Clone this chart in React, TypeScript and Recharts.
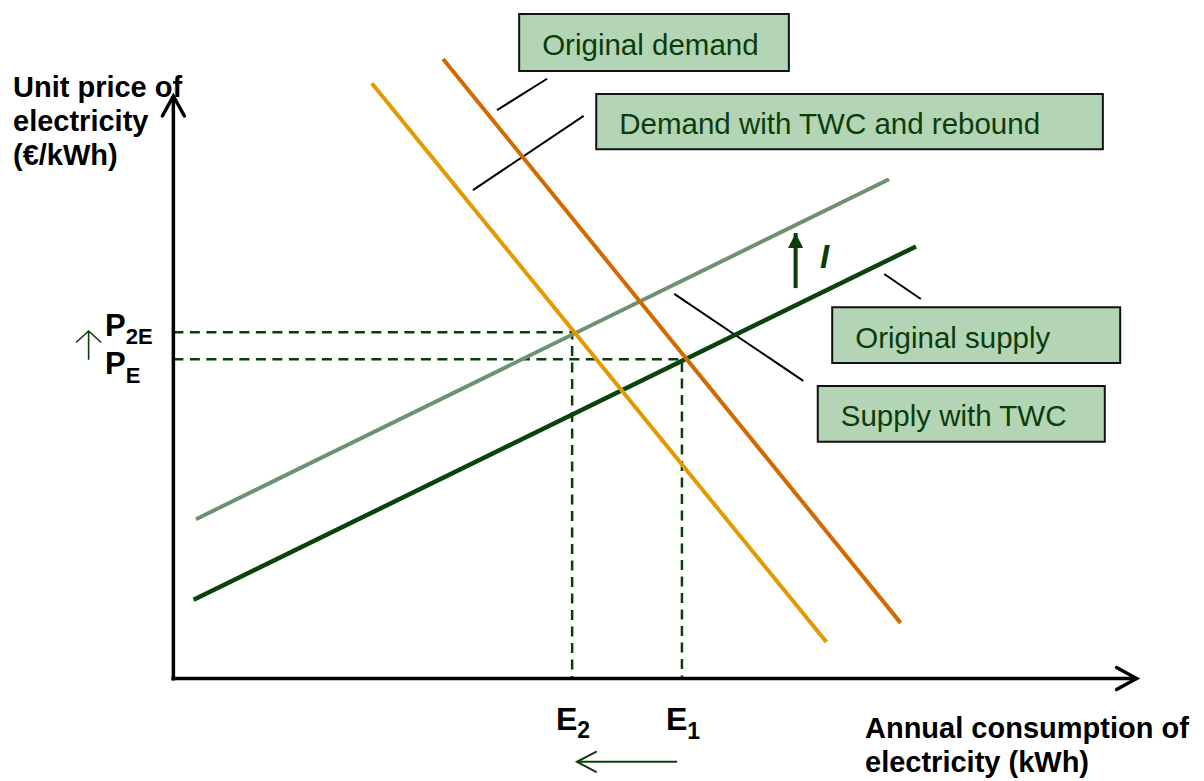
import React from 'react';
import { ComposedChart, Line, XAxis, YAxis, ReferenceArea } from 'recharts';

// ---------------------------------------------------------------------------
// Data (abstract units: quantity on x, price on y)
// ---------------------------------------------------------------------------

const originalDemand = [
  { x: 28.0, y: 96.8 },
  { x: 75.5, y: 8.7 },
];
const demandWithTWC = [
  { x: 20.6, y: 93.0 },
  { x: 67.8, y: 5.7 },
];
const supplyWithTWC = [
  { x: 2.35, y: 24.9 },
  { x: 74.3, y: 78.0 },
];
const originalSupply = [
  { x: 2.1, y: 12.3 },
  { x: 77.1, y: 67.5 },
];

// equilibrium guides: price level -> quantity -> axis
const guideP2E = [
  { x: 0, y: 54.1 },
  { x: 41.4, y: 54.1 },
  { x: 41.4, y: 0 },
];
const guidePE = [
  { x: 0, y: 49.9 },
  { x: 52.8, y: 49.9 },
  { x: 52.8, y: 0 },
];

const xAxisLine = [
  { x: -0.2, y: 0 },
  { x: 100, y: 0 },
];
const yAxisLine = [
  { x: 0, y: -0.3 },
  { x: 0, y: 91 },
];

const shiftI = [
  { x: 64.6, y: 61.0 },
  { x: 64.6, y: 69.6 },
];
const shiftE = [
  { x: 52.3, y: -13.0 },
  { x: 41.9, y: -13.0 },
];
const shiftP = [
  { x: -8.8, y: 49.8 },
  { x: -8.8, y: 54.3 },
];

const leaderOriginalDemand = [
  { x: 38.8, y: 93.7 },
  { x: 33.6, y: 88.8 },
];
const leaderDemandTWC = [
  { x: 42.6, y: 87.9 },
  { x: 31.1, y: 76.3 },
];
const leaderSupplyTWC = [
  { x: 52.0, y: 60.1 },
  { x: 65.4, y: 46.5 },
];
const leaderOriginalSupply = [
  { x: 73.8, y: 63.2 },
  { x: 77.6, y: 59.3 },
];

const labelBoxes = [
  { text: 'Original demand', x1: 35.9, x2: 63.9, y1: 94.9, y2: 103.8 },
  { text: 'Demand with TWC and rebound', x1: 43.9, x2: 96.5, y1: 82.7, y2: 91.3 },
  { text: 'Original supply', x1: 68.4, x2: 98.3, y1: 49.3, y2: 58.0 },
  { text: 'Supply with TWC', x1: 66.9, x2: 96.7, y1: 37.0, y2: 45.7 },
];

// ---------------------------------------------------------------------------
// Helpers
// ---------------------------------------------------------------------------

const FONT = "'Liberation Sans', Arial, Helvetica, sans-serif";
const DARK_GREEN = '#0b3d0b';

type Dir = 'up' | 'right' | 'left';

// draws an arrow head on the last point of a two-point line
const arrowHead =
  (dir: Dir, back: number, spread: number, color: string, width: number, filled = false) =>
  (props: any) => {
    const { cx, cy, index } = props;
    if (index !== 1 || cx == null || cy == null) return <g key={`a-${index}`} />;
    let a: [number, number];
    let b: [number, number];
    if (dir === 'up') {
      a = [cx - spread, cy + back];
      b = [cx + spread, cy + back];
    } else if (dir === 'right') {
      a = [cx - back, cy - spread];
      b = [cx - back, cy + spread];
    } else {
      a = [cx + back, cy - spread];
      b = [cx + back, cy + spread];
    }
    if (filled) {
      return (
        <path
          key={`a-${index}`}
          d={`M${cx},${cy} L${a[0]},${a[1]} L${b[0]},${b[1]} Z`}
          fill={color}
          stroke="none"
        />
      );
    }
    return (
      <path
        key={`a-${index}`}
        d={`M${a[0]},${a[1]} L${cx},${cy} L${b[0]},${b[1]}`}
        fill="none"
        stroke={color}
        strokeWidth={width}
        strokeLinecap="round"
        strokeLinejoin="miter"
      />
    );
  };

const seg = (
  key: string,
  data: Array<{ x: number; y: number }>,
  stroke: string,
  strokeWidth: number,
  extra: Record<string, any> = {},
) => (
  <Line
    key={key}
    data={data}
    dataKey="y"
    type="linear"
    stroke={stroke}
    strokeWidth={strokeWidth}
    dot={false}
    activeDot={false}
    isAnimationActive={false}
    legendType="none"
    {...extra}
  />
);

// ---------------------------------------------------------------------------
// Component
// ---------------------------------------------------------------------------

const App: React.FC = () => {
  return (
    <div style={{ position: 'absolute', left: 0, top: 0, width: 1204, height: 781, background: '#fff' }}>
      <ComposedChart width={1204} height={781} margin={{ top: 0, right: 0, bottom: 0, left: 0 }}>
        <XAxis type="number" dataKey="x" domain={[-18, 107]} allowDataOverflow hide />
        <YAxis type="number" domain={[-16, 106]} allowDataOverflow hide />

        {labelBoxes.map((b) => (
          <ReferenceArea
            key={b.text}
            x1={b.x1}
            x2={b.x2}
            y1={b.y1}
            y2={b.y2}
            fill="#b3d4b5"
            fillOpacity={1}
            stroke="#111"
            strokeWidth={2}
            label={{
              value: b.text,
              position: 'insideLeft',
              offset: 23,
              dy: 2,
              fill: DARK_GREEN,
              fontSize: 29.5,
              fontFamily: FONT,
            }}
          />
        ))}

        {seg('dash-p2e', guideP2E, DARK_GREEN, 2.5, { strokeDasharray: '10 6.5' })}
        {seg('dash-pe', guidePE, DARK_GREEN, 2.5, { strokeDasharray: '10 6.5' })}

        {seg('y-axis', yAxisLine, '#000', 3.5, { dot: arrowHead('up', 20, 11, '#000', 3.5) })}
        {seg('x-axis', xAxisLine, '#000', 3.5, { dot: arrowHead('right', 20, 11, '#000', 3.5) })}

        {seg('lead-od', leaderOriginalDemand, '#000', 2)}
        {seg('lead-dt', leaderDemandTWC, '#000', 2)}
        {seg('lead-st', leaderSupplyTWC, '#000', 2)}
        {seg('lead-os', leaderOriginalSupply, '#000', 2)}

        {seg('supply-twc', supplyWithTWC, '#6f9173', 4)}
        {seg('supply-orig', originalSupply, '#07430a', 4.5)}
        {seg('demand-twc', demandWithTWC, '#e29a00', 4)}
        {seg('demand-orig', originalDemand, '#d26a00', 4)}

        {seg('shift-i', shiftI, DARK_GREEN, 4, { dot: arrowHead('up', 15, 7.5, DARK_GREEN, 4, true) })}
        {seg('shift-e', shiftE, DARK_GREEN, 2, { dot: arrowHead('left', 19, 10, DARK_GREEN, 2) })}
        {seg('shift-p', shiftP, DARK_GREEN, 1.6, { dot: arrowHead('up', 11, 12, DARK_GREEN, 1.6) })}
      </ComposedChart>

      <svg
        width={1204}
        height={781}
        style={{ position: 'absolute', left: 0, top: 0, pointerEvents: 'none' }}
        fontFamily={FONT}
      >
        <g fontSize={29} fontWeight="bold" fill="#000">
          <text x={13} y={97}>Unit price of</text>
          <text x={13} y={131}>electricity</text>
          <text x={13} y={165}>(€/kWh)</text>
          <text x={865} y={738}>Annual consumption of</text>
          <text x={865} y={772}>electricity (kWh)</text>
        </g>
        <g fontWeight="bold" fill="#000">
          <text x={105} y={336} fontSize={31}>
            P<tspan fontSize={22} dy={8}>2E</tspan>
          </text>
          <text x={105} y={374} fontSize={31}>
            P<tspan fontSize={22} dy={9}>E</tspan>
          </text>
          <text x={556} y={730} fontSize={32}>
            E<tspan fontSize={23} dy={8}>2</tspan>
          </text>
          <text x={666} y={730} fontSize={32}>
            E<tspan fontSize={23} dy={9}>1</tspan>
          </text>
        </g>
        <text x={820} y={268} fontSize={33} fontWeight="bold" fontStyle="italic" fill={DARK_GREEN}>
          I
        </text>
      </svg>
    </div>
  );
};

export default App;
